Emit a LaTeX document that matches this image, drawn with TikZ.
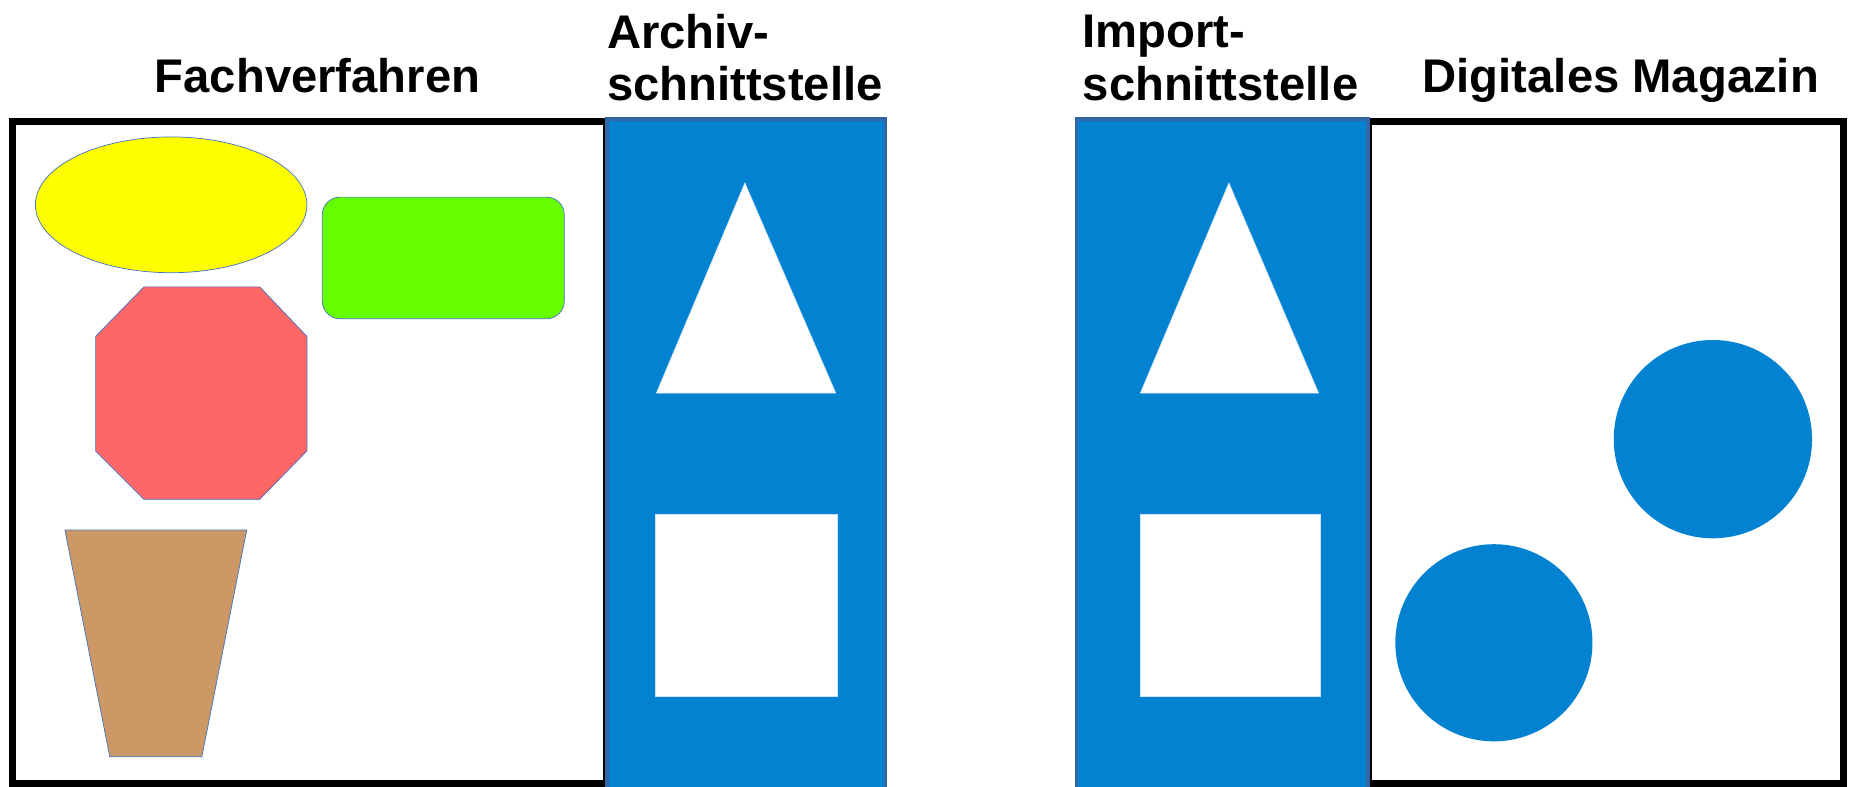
\documentclass[tikz,border=0pt]{standalone}
\usepackage{fontspec}
\setmainfont{Liberation Sans}
\definecolor{ifblue}{RGB}{3,130,210}
\definecolor{ifedge}{RGB}{52,101,164}
\definecolor{thinedge}{RGB}{68,114,196}
\definecolor{shyellow}{RGB}{255,255,0}
\definecolor{shgreen}{RGB}{102,255,0}
\definecolor{shred}{RGB}{255,102,102}
\definecolor{shbrown}{RGB}{204,153,102}
\begin{document}
\begin{tikzpicture}[x=1pt,y=-1pt,
  title/.style={font=\fontsize{40}{44}\selectfont\bfseries, inner sep=0pt, anchor=base west, align=left},
  frame/.style={draw=black, line width=6pt, fill=white},
  ifbox/.style={draw=ifedge, line width=3pt, fill=ifblue},
  hole/.style={fill=white, draw=white!80!ifblue, line width=0.5pt},
  shp/.style={draw=thinedge, line width=0.6pt}]
\useasboundingbox (0,0) rectangle (1568,666);
% frames
\draw[frame] (10.5,103) rectangle (514,664);
\draw[frame] (1159,103) rectangle (1562,664);
% interface columns
\draw[ifbox] (514,101) rectangle (750,672);
\draw[ifbox] (912,101) rectangle (1159,672);
% Archiv holes
\draw[hole] (631,155) -- (708,333) -- (556,333) -- cycle;
\draw[hole] (555,436) rectangle (709,590);
% Import holes
\draw[hole] (1041,155) -- (1117,333) -- (966,333) -- cycle;
\draw[hole] (966,436) rectangle (1118,590);
% Fachverfahren shapes
\draw[shp, fill=shyellow] (145,173.5) ellipse [x radius=115, y radius=57.5];
\draw[shp, fill=shgreen, rounded corners=15] (273,167) rectangle (478,270);
\draw[shp, fill=shred] (122,243) -- (220,243) -- (260,285) -- (260,382) -- (220,423) -- (122,423) -- (81,382) -- (81,285) -- cycle;
\draw[shp, fill=shbrown] (55,449) -- (209,449) -- (171,641) -- (93,641) -- cycle;
% Digitales Magazin circles
\fill[ifblue] (1451,372) ellipse [x radius=84, y radius=84];
\fill[ifblue] (1265.5,544.5) ellipse [x radius=83.5, y radius=83.5];
% titles
\node[title] (fach) at (131,78) {Fachverfahren};
\node[title] (archiv1) at (514,41) {Archiv-};
\node[title] (archiv2) at (514,85) {schnittstelle};
\node[title] (import1) at (917,40) {Import-};
\node[title] (import2) at (917,85) {schnittstelle};
\node[title] (dm) at (1205,78) {Digitales Magazin};
\end{tikzpicture}
\end{document}
